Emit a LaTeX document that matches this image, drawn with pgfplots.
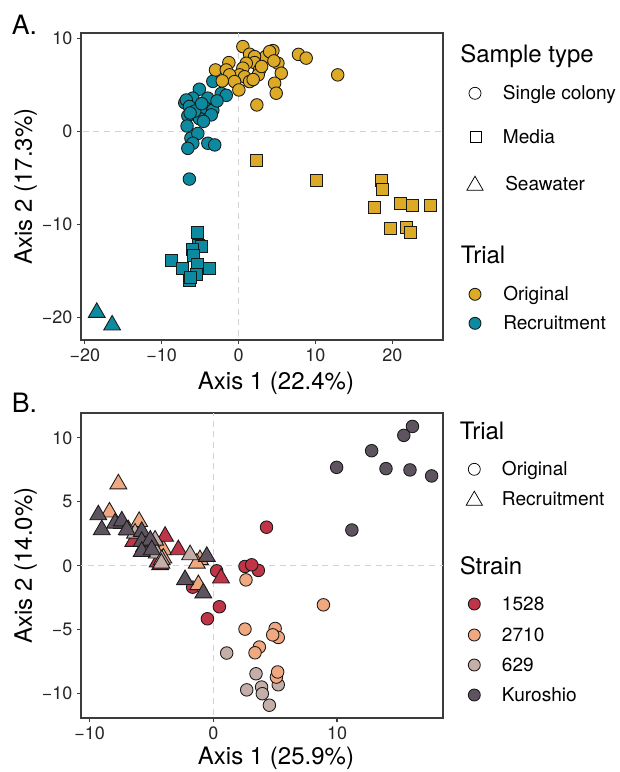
\documentclass[border=0pt]{standalone}
\usepackage{fontspec}
\setmainfont{TeX Gyre Heros}
\usepackage{pgfplots}
\pgfplotsset{compat=1.18}
\definecolor{cOrig}{RGB}{221,170,38}
\definecolor{cRec}{RGB}{12,138,160}
\definecolor{cA}{RGB}{192,52,72}
\definecolor{cB}{RGB}{239,168,128}
\definecolor{cC}{RGB}{196,174,168}
\definecolor{cK}{RGB}{94,84,96}
\definecolor{outl}{RGB}{25,25,25}
\definecolor{frame}{RGB}{60,60,60}
\definecolor{zl}{RGB}{210,210,210}
\newcommand{\tl}{\fontsize{13.5}{15}\selectfont}
\newcommand{\lt}{\fontsize{14.3}{16}\selectfont}
\newcommand{\ttl}{\fontsize{18}{20}\selectfont}
\pgfplotsset{
  panel/.style={width=271.5pt, scale only axis,
    axis line style={draw=frame, line width=0.8pt},
    tick style={draw=frame, line width=0.8pt},
    tick align=outside, major tick length=3pt,
    xtick pos=bottom, ytick pos=left,
    ticklabel style={font=\tl, text=black!85},
    /pgf/number format/assume math mode=true},
  mk/.style={only marks, mark options={draw=outl, line width=0.65pt, fill=#1}},
  zero/.style={draw=zl, dash pattern=on 4.5pt off 3.5pt, line width=0.9pt, forget plot},
  circ/.style={mark=*, mark size=4.7pt},
  sq/.style={mark=square*, mark size=4.5pt},
  tri/.style={mark=triangle*, mark size=7.3pt},
}
\begin{document}
\begin{tikzpicture}
\path[use as bounding box] (0,0) rectangle (464.25pt,-579pt);
% ---------------- Panel A ----------------
\begin{axis}[panel, at={(60.75pt,-255pt)}, anchor=south west, height=230.25pt,
  xmin=-20.5, xmax=26.6, ymin=-22.4, ymax=10.6,
  xtick={-20,-10,0,10,20}, xticklabels={−20,−10,0,10,20},
  ytick={-20,-10,0,10}, yticklabels={−20,−10,0,10}]
\addplot[zero] coordinates {(0,-30) (0,30)};
\addplot[zero] coordinates {(-30,0) (30,0)};
% Recruitment single colony
\addplot[mk=cRec, circ] coordinates {
(-5.1,4.56) (-3.35,5.4) (-2.25,4.1) (-1.6,3.9) (-7.0,3.1) (-5.95,3.6) (-4.0,3.6)
(-6.8,3.4) (-6.4,2.7) (-4.4,2.6) (-3.35,2.3) (-6.6,1.7) (-5.1,1.4) (-3.55,1.8)
(-6.7,0.6) (-4.56,1.1) (-6.2,-0.7) (-5.3,-0.2) (-5.95,-1.25) (-6.6,-1.8) (-4.0,-1.25)
(-3.1,-1.43) (-6.4,-5.1) (-5.7,2.2) (-4.8,3.0) (-2.8,3.3) (-6.3,2.0)};
% Original single colony
\addplot[mk=cOrig, circ] coordinates {
(0.56,9.14) (1.43,8.32) (4.47,8.71) (3.52,8.06) (7.8,8.3) (8.8,7.9) (2.08,8.06)
(4.04,8.6) (2.08,7.42) (1.0,7.35) (-1.26,7.42) (5.12,7.35) (-3.0,6.63) (-1.6,6.63)
(0.56,6.82) (2.73,6.63) (5.56,6.28) (12.9,6.1) (0.13,6.1) (2.56,6.1) (-1.17,6.1)
(0.78,5.9) (1.43,5.38) (-0.52,5.38) (-2.12,5.45) (4.69,5.2) (0.04,4.48) (4.9,4.13)
(2.38,2.87) (3.0,7.0) (1.9,5.6) (4.6,7.6)};
% Media
\addplot[mk=cRec, sq] coordinates {
(-5.4,-10.8) (-5.2,-12.2) (-4.86,-12.3) (-6.0,-12.7) (-5.86,-13.26) (-8.7,-13.8)
(-7.25,-14.76) (-5.3,-14.3) (-3.8,-14.76) (-6.4,-15.95) (-5.5,-15.4) (-6.2,-15.65)};
\addplot[mk=cOrig, sq] coordinates {
(2.3,-3.15) (10.1,-5.3) (18.6,-5.2) (18.7,-6.2) (17.7,-8.2) (21.05,-7.7) (22.6,-7.95)
(24.9,-7.9) (19.8,-10.4) (21.8,-10.3) (22.3,-10.85)};
% Seawater
\addplot[mk=cRec, tri] coordinates {(-18.45,-19.45) (-16.45,-20.8)};
\end{axis}
% ---------------- Panel B ----------------
\begin{axis}[panel, at={(60.75pt,-538.5pt)}, anchor=south west, height=228.75pt,
  xmin=-10.7, xmax=18.57, ymin=-11.9, ymax=11.95,
  xtick={-10,0,10}, xticklabels={−10,0,10},
  ytick={-10,-5,0,5,10}, yticklabels={−10,−5,0,5,10}]
\addplot[zero] coordinates {(0,-30) (0,30)};
\addplot[zero] coordinates {(-30,0) (30,0)};
% circles (Original)
\addplot[mk=cK, circ] coordinates {
(16.1,10.9) (15.4,10.2) (12.8,9.0) (9.97,7.7) (13.96,7.6) (15.9,7.5) (17.65,7.03) (11.2,2.8)};
\addplot[mk=cC, circ] coordinates {
(1.08,-6.82) (3.45,-8.44) (2.7,-9.7) (3.9,-9.48) (3.96,-10.0) (5.25,-9.3) (4.53,-10.9)};
\addplot[mk=cB, circ] coordinates {
(2.64,-1.1) (8.9,-3.05) (2.56,-4.95) (5.0,-4.9) (5.25,-5.6) (4.8,-5.4) (3.72,-6.35)
(3.37,-6.8) (5.1,-8.7) (5.2,-8.3)};
\addplot[mk=cA, circ] coordinates {
(4.3,3.02) (2.56,-0.05) (3.64,-0.36) (3.1,0.08) (0.27,-0.39) (-1.67,-1.67) (0.49,-3.2) (-0.48,-4.14)};
% triangles (Recruitment)
\addplot[mk=cB, tri] coordinates {
(-7.68,6.4) (-8.4,4.2) (-6.0,3.46) (-4.04,1.25) (-4.04,0.6) (-1.08,0.47) (-1.21,-1.48) (-1.34,0.2)};
\addplot[mk=cA, tri] coordinates {
(-6.47,1.9) (-3.9,2.3) (-2.83,1.25) (-4.3,0.08) (0.62,-0.96) (-5.6,1.5) (-4.5,0.3)};
\addplot[mk=cC, tri] coordinates {
(-7.4,3.3) (-6.87,2.8) (-6.33,2.55) (-4.71,2.0) (-4.58,0.99) (-4.17,0.47) (-1.88,0.86) (-4.2,0.2)};
\addplot[mk=cK, tri] coordinates {
(-9.3,3.98) (-9.02,2.81) (-7.95,3.33) (-7.4,3.5) (-7.0,2.81) (-5.79,2.68) (-5.79,1.9)
(-5.1,2.0) (-5.79,1.12) (-4.98,1.25) (-0.53,0.73) (-2.29,-1.09) (-0.81,-2.13)};
\end{axis}
% ---------------- Overlay: titles and legends (pixel coordinates) ----------------
\begin{axis}[at={(0pt,-579pt)}, anchor=south west, width=464.25pt, height=579pt,
  scale only axis, xmin=0, xmax=619, ymin=0, ymax=772, y dir=reverse,
  axis lines=none, clip=false]
\node[anchor=base west, inner sep=0, font=\fontsize{20}{22}\selectfont] at (axis cs:11.5,34) {A.};
\node[anchor=base west, inner sep=0, font=\fontsize{20}{22}\selectfont] at (axis cs:11.5,412) {B.};
\node[anchor=base, inner sep=0, font=\ttl] at (axis cs:276,389) {Axis 1 (22.4\%)};
\node[anchor=base, inner sep=0, font=\ttl] at (axis cs:276,764.5) {Axis 1 (25.9\%)};
\node[anchor=base, inner sep=0, font=\ttl, rotate=90] at (axis cs:32,186.5) {Axis 2 (17.3\%)};
\node[anchor=base, inner sep=0, font=\ttl, rotate=90] at (axis cs:32,565.5) {Axis 2 (14.0\%)};
% legend A
\node[anchor=base west, inner sep=0, font=\ttl] at (axis cs:460,62) {Sample type};
\addplot[only marks, mark=*, mark size=4.5pt, mark options={draw=black, fill=white, line width=0.55pt}] coordinates {(475,93.3)};
\addplot[only marks, mark=square*, mark size=4.1pt, mark options={draw=black, fill=white, line width=0.55pt}] coordinates {(476,136.7)};
\addplot[only marks, mark=triangle*, mark size=7pt, mark options={draw=black, fill=white, line width=0.55pt}] coordinates {(475,185.5)};
\node[anchor=base west, inner sep=0, font=\lt] at (axis cs:502.7,99.5) {Single colony};
\node[anchor=base west, inner sep=0, font=\lt] at (axis cs:502.7,143) {Media};
\node[anchor=base west, inner sep=0, font=\lt] at (axis cs:505,190.5) {Seawater};
\node[anchor=base west, inner sep=0, font=\ttl] at (axis cs:460.5,263) {Trial};
\addplot[only marks, mark=*, mark size=4.5pt, mark options={draw=outl, fill=cOrig, line width=0.65pt}] coordinates {(475,294.3)};
\addplot[only marks, mark=*, mark size=4.5pt, mark options={draw=outl, fill=cRec, line width=0.65pt}] coordinates {(475,323.3)};
\node[anchor=base west, inner sep=0, font=\lt] at (axis cs:503,300.5) {Original};
\node[anchor=base west, inner sep=0, font=\lt] at (axis cs:503,329.5) {Recruitment};
% legend B
\node[anchor=base west, inner sep=0, font=\ttl] at (axis cs:459.5,439) {Trial};
\addplot[only marks, mark=*, mark size=4.5pt, mark options={draw=black, fill=white, line width=0.55pt}] coordinates {(474.3,469.3)};
\addplot[only marks, mark=triangle*, mark size=7pt, mark options={draw=black, fill=white, line width=0.55pt}] coordinates {(474.3,500.5)};
\node[anchor=base west, inner sep=0, font=\lt] at (axis cs:501.7,475.5) {Original};
\node[anchor=base west, inner sep=0, font=\lt] at (axis cs:501.7,505.2) {Recruitment};
\node[anchor=base west, inner sep=0, font=\ttl] at (axis cs:459.5,574) {Strain};
\addplot[only marks, mark=*, mark size=4.5pt, mark options={draw=outl, fill=cA, line width=0.65pt}] coordinates {(474.3,604)};
\addplot[only marks, mark=*, mark size=4.5pt, mark options={draw=outl, fill=cB, line width=0.65pt}] coordinates {(474.3,635)};
\addplot[only marks, mark=*, mark size=4.5pt, mark options={draw=outl, fill=cC, line width=0.65pt}] coordinates {(474.3,665)};
\addplot[only marks, mark=*, mark size=4.5pt, mark options={draw=outl, fill=cK, line width=0.65pt}] coordinates {(474.3,695)};
\node[anchor=base west, inner sep=0, font=\lt] at (axis cs:501.7,610.2) {1528};
\node[anchor=base west, inner sep=0, font=\lt] at (axis cs:501.7,641.2) {2710};
\node[anchor=base west, inner sep=0, font=\lt] at (axis cs:501.7,671.2) {629};
\node[anchor=base west, inner sep=0, font=\lt] at (axis cs:501.7,701.2) {Kuroshio};
\end{axis}
\end{tikzpicture}
\end{document}
